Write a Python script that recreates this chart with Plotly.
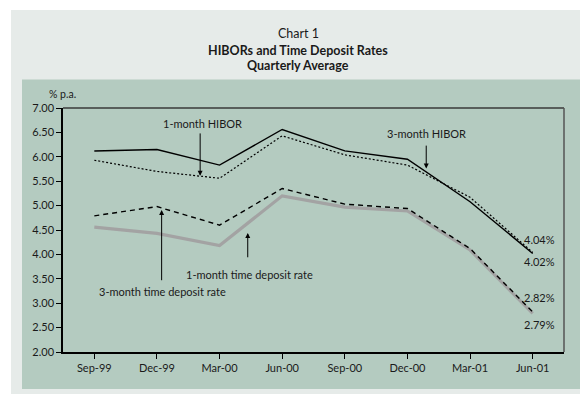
import plotly.graph_objects as go

quarters = ["Sep-99", "Dec-99", "Mar-00", "Jun-00", "Sep-00", "Dec-00", "Mar-01", "Jun-01"]
hibor_3m = [6.12, 6.15, 5.83, 6.56, 6.12, 5.95, 5.08, 4.02]
hibor_1m = [5.93, 5.70, 5.56, 6.43, 6.04, 5.83, 5.17, 4.04]
td_3m = [4.79, 4.98, 4.60, 5.35, 5.03, 4.94, 4.12, 2.82]
td_1m = [4.56, 4.43, 4.18, 5.20, 4.97, 4.89, 4.09, 2.79]
y_ticks = [2.0, 2.5, 3.0, 3.5, 4.0, 4.5, 5.0, 5.5, 6.0, 6.5, 7.0]

FONT = "Lato"
TXT = "#1a1a1a"

fig = go.Figure()
fig.add_trace(go.Scatter(x=list(range(8)), y=td_1m, mode="lines",
                         line=dict(color="#a3a3a3", width=3.2), name="1-month time deposit rate"))
fig.add_trace(go.Scatter(x=list(range(8)), y=td_3m, mode="lines",
                         line=dict(color="black", width=1.4, dash="5px,4px"), name="3-month time deposit rate"))
fig.add_trace(go.Scatter(x=list(range(8)), y=hibor_1m, mode="lines",
                         line=dict(color="black", width=1.2, dash="2px,2px"), name="1-month HIBOR"))
fig.add_trace(go.Scatter(x=list(range(8)), y=hibor_3m, mode="lines",
                         line=dict(color="black", width=1.4), name="3-month HIBOR"))

# geometry helpers (plot area: x 63..564 px, y 108..352 px)
L, R, T, B = 63, 564, 108, 352
def px(x):
    return (x - L) / (R - L)
def py(y):
    return (B - y) / (B - T)

shapes = [
    dict(type="rect", xref="paper", yref="paper", x0=px(11), x1=px(585), y0=py(10), y1=py(400),
         fillcolor="#e6ebe9", line=dict(width=0), layer="below"),
    dict(type="rect", xref="paper", yref="paper", x0=px(22), x1=px(585), y0=py(79.5), y1=py(389),
         fillcolor="#b4cbc0", line=dict(width=0), layer="below"),
    dict(type="line", xref="paper", yref="paper", x0=0, x1=1, y0=1, y1=1,
         line=dict(color="#3a3a3a", width=1.5)),
    dict(type="line", xref="paper", yref="paper", x0=1, x1=1, y0=0, y1=1,
         line=dict(color="#555555", width=1.5)),
]

ann = []
# titles
ann.append(dict(text="Chart 1", xref="paper", yref="paper", x=px(298), y=py(33), showarrow=False,
                font=dict(family=FONT, size=12.5, color=TXT), yanchor="middle"))
ann.append(dict(text="<b>HIBORs and Time Deposit Rates</b>", xref="paper", yref="paper", x=px(298), y=py(50),
                showarrow=False, font=dict(family=FONT, size=12.5, color=TXT), yanchor="middle"))
ann.append(dict(text="<b>Quarterly Average</b>", xref="paper", yref="paper", x=px(298), y=py(66),
                showarrow=False, font=dict(family=FONT, size=12.5, color=TXT), yanchor="middle"))
ann.append(dict(text="% p.a.", xref="paper", yref="paper", x=px(47), y=py(94), showarrow=False,
                font=dict(family=FONT, size=10.5, color=TXT), yanchor="middle"))

# series labels
def label(text, x, y):
    ann.append(dict(text=text, x=x, y=y, xref="x", yref="y", showarrow=False,
                    font=dict(family=FONT, size=11, color=TXT), yanchor="middle"))

def arrow(x, y_head, y_tail):
    ann.append(dict(text="", x=x, y=y_head, ax=x, ay=y_tail, xref="x", yref="y", axref="x", ayref="y",
                    showarrow=True, arrowhead=2, arrowsize=1, arrowwidth=1, arrowcolor="black"))

label("1-month HIBOR", 1.72, 6.69)
arrow(1.69, 5.61, 6.51)
label("3-month HIBOR", 5.30, 6.48)
arrow(5.30, 5.76, 6.26)
label("1-month time deposit rate", 2.47, 3.58)
arrow(2.45, 4.44, 3.91)
label("3-month time deposit rate", 1.09, 3.23)
arrow(1.075, 4.91, 3.44)

for txt, yv in [("4.04%", 4.31), ("4.02%", 3.85), ("2.82%", 3.11), ("2.79%", 2.57)]:
    label(txt, 7.11, yv)

fig.update_layout(
    width=580, height=394,
    margin=dict(l=L, r=580 - R, t=T, b=394 - B),
    paper_bgcolor="white", plot_bgcolor="#b4cbc0",
    showlegend=False,
    shapes=shapes, annotations=ann,
    font=dict(family=FONT, size=11, color=TXT),
    xaxis=dict(tickmode="array", tickvals=list(range(8)), ticktext=quarters,
               range=[-0.5, 7.5], showgrid=False, zeroline=False,
               showline=True, linecolor="black", linewidth=1.5,
               ticks="outside", ticklen=5, tickcolor="black", tickwidth=1,
               tickfont=dict(family=FONT, size=11, color=TXT)),
    yaxis=dict(range=[2, 7], tickvals=y_ticks, tickformat=".2f", showgrid=False, zeroline=False,
               showline=True, linecolor="black", linewidth=1.5,
               ticks="outside", ticklen=5, tickcolor="black", tickwidth=1,
               tickfont=dict(family=FONT, size=11, color=TXT)),
)

# x ticks at category boundaries
fig.update_xaxes(tickson="boundaries")
fig.write_html("out.html")
